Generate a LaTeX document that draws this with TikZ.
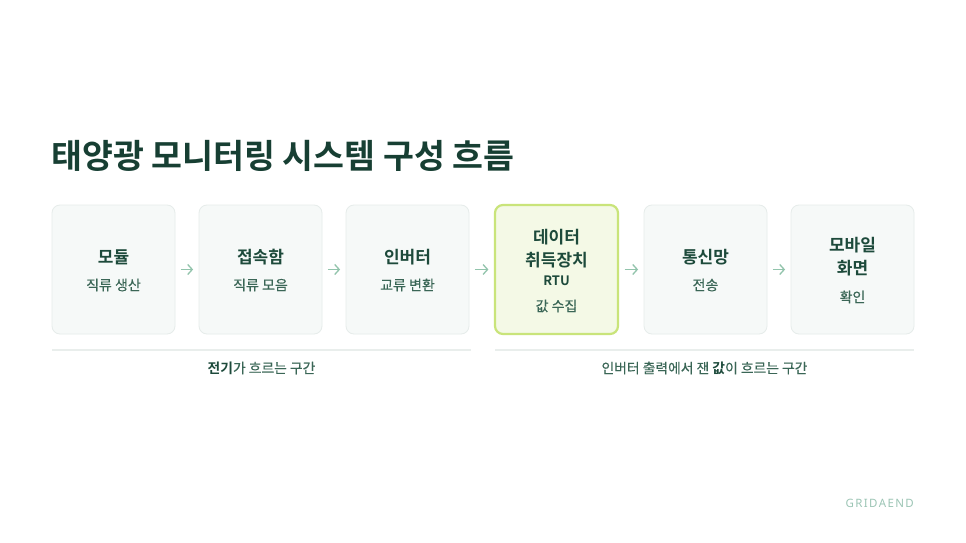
\documentclass[tikz,border=0pt]{standalone}
\usepackage{fontspec}
\setmainfont{Noto Sans CJK KR}[BoldFont={Noto Sans CJK KR Bold}]
\newfontfamily\krmed{Noto Sans CJK KR}[FakeBold=0.35]
\newfontfamily\latinsans{Noto Sans}
\usetikzlibrary{arrows.meta}
\definecolor{titlec}{HTML}{173F33}
\definecolor{headc}{HTML}{1D4A3B}
\definecolor{subc}{HTML}{3A6656}
\definecolor{boxfill}{HTML}{F6F9F8}
\definecolor{boxline}{HTML}{E6ECEA}
\definecolor{hlfill}{HTML}{F4F9E6}
\definecolor{hlline}{HTML}{C9E47A}
\definecolor{arrowc}{HTML}{92C4AC}
\definecolor{sepc}{HTML}{E9EEEC}
\definecolor{brandc}{HTML}{9CC5B5}
\tikzset{
  card/.style={draw=boxline, line width=0.8pt, fill=boxfill, rounded corners=8pt,
    minimum width=123pt, minimum height=129pt, inner sep=0pt},
  hlcard/.style={card, draw=hlline, fill=hlfill, line width=2.2pt},
  head/.style={font=\fontsize{17}{20}\selectfont\bfseries, text=headc, inner sep=0pt},
  rtu/.style={font=\fontsize{13}{16}\selectfont\bfseries, text=headc, inner sep=0pt},
  sub/.style={font=\krmed\fontsize{14}{16}\selectfont, text=subc, inner sep=0pt},
  flow/.style={draw=arrowc, line width=1.3pt, -{Straight Barb[length=4.5pt,width=10pt]}, shorten <=5.5pt, shorten >=5.5pt},
  sep/.style={draw=sepc, line width=1.5pt},
  zone/.style={font=\krmed\fontsize{13.8}{16}\selectfont, text=subc, inner sep=0pt},
}
\begin{document}
\begin{tikzpicture}[x=1pt,y=1pt]
\useasboundingbox[fill=white] (0,0) rectangle (966,-543);
% title
\node[anchor=west, inner sep=0pt, font=\fontsize{33.6}{38}\selectfont\bfseries, text=titlec] (title) at (51,-156) {태양광 모니터링 시스템 구성 흐름};
% cards
\node[card]   (c1) at (113.5,-269.5) {};
\node[card]   (c2) at (260.5,-269.5) {};
\node[card]   (c3) at (407.5,-269.5) {};
\node[hlcard] (c4) at (556.5,-269.5) {};
\node[card]   (c5) at (705.5,-269.5) {};
\node[card]   (c6) at (852.5,-269.5) {};
% texts
\node[head] (t1) at (113.5,-257) {모듈};
\node[sub]  (s1) at (113.5,-285) {직류 생산};
\node[head] (t2) at (260.5,-257) {접속함};
\node[sub]  (s2) at (260.5,-285) {직류 모음};
\node[head] (t3) at (407.5,-257) {인버터};
\node[sub]  (s3) at (407.5,-285) {교류 변환};
\node[head] (t4a) at (556.5,-237) {데이터};
\node[head] (t4b) at (556.5,-260) {취득장치};
\node[rtu]  (t4c) at (556.5,-281) {RTU};
\node[sub]  (s4) at (556.5,-306) {값 수집};
\node[head] (t5) at (705.5,-257) {통신망};
\node[sub]  (s5) at (705.5,-285) {전송};
\node[head] (t6a) at (852.5,-245) {모바일};
\node[head] (t6b) at (852.5,-268) {화면};
\node[sub]  (s6) at (852.5,-297) {확인};
% arrows
\draw[flow] (c1.east) -- (c2.west);
\draw[flow] (c2.east) -- (c3.west);
\draw[flow] (c3.east) -- (c4.west);
\draw[flow] (c4.east) -- (c5.west);
\draw[flow] (c5.east) -- (c6.west);
% separators
\coordinate (l1a) at (52,-350);
\coordinate (l1b) at (471,-350);
\coordinate (l2a) at (495,-350);
\coordinate (l2b) at (914,-350);
\draw[sep] (l1a) -- (l1b);
\draw[sep] (l2a) -- (l2b);
\node[zone] (z1) at (261.5,-368) {{\normalfont\bfseries\color{headc}전기}가 흐르는 구간};
\node[zone] (z2) at (704.5,-368) {인버터 출력에서 잰 {\normalfont\bfseries\color{headc}값}이 흐르는 구간};
% brand
\node[anchor=east, inner sep=0pt, text=brandc, font=\latinsans\fontsize{11.5}{14}\selectfont\addfontfeature{LetterSpace=12}] (brand) at (914,-503) {GRIDAEND};
\end{tikzpicture}
\end{document}
